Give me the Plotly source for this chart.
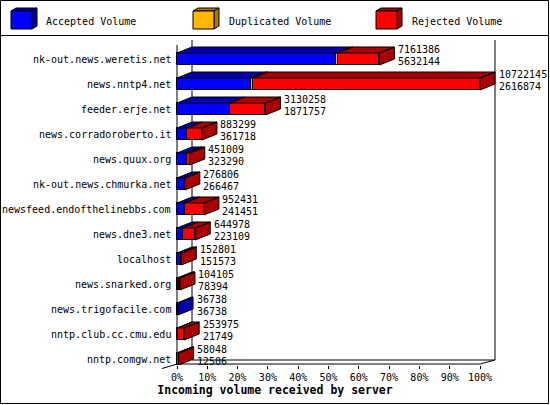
import plotly.graph_objects as go

# ---------------- data ----------------
hosts = [
    "nk-out.news.weretis.net", "news.nntp4.net", "feeder.erje.net",
    "news.corradoroberto.it", "news.quux.org", "nk-out.news.chmurka.net",
    "newsfeed.endofthelinebbs.com", "news.dne3.net", "localhost",
    "news.snarked.org", "news.trigofacile.com", "nntp.club.cc.cmu.edu",
    "nntp.comgw.net",
]
total = [7161386, 10722145, 3130258, 883299, 451009, 276806, 952431,
         644978, 152801, 104105, 36738, 253975, 58048]
accepted = [5632144, 2616874, 1871757, 361718, 323290, 266467, 241451,
            223109, 151573, 78394, 36738, 21749, 12506]
duplicated = [60000, 70000, 0, 0, 25000, 0, 35000, 0, 0, 0, 0, 0, 0]
series_names = ["Accepted Volume", "Duplicated Volume", "Rejected Volume"]
tick_values = [0, 10, 20, 30, 40, 50, 60, 70, 80, 90, 100]
tick_labels = [f"{v}%" for v in tick_values]
x_title = "Incoming volume received by server"

rejected = [t - a - d for t, a, d in zip(total, accepted, duplicated)]
vmax = max(total)
pct = lambda arr: [v / vmax * 100 for v in arr]
acc_p, dup_p, rej_p, tot_p = pct(accepted), pct(duplicated), pct(rejected), pct(total)
idx = list(range(len(hosts)))

# ---------------- style / geometry ----------------
FONT = "DejaVu Sans Mono"
BLUE, BLUE_D = "#0000FF", "#0000AA"
ORNG, ORNG_D = "#FFB700", "#AA7A00"
RED, RED_D = "#FF0000", "#AA0000"
FRONT = [BLUE, ORNG, RED]
DARK = [BLUE_D, ORNG_D, RED_D]

W, H = 550, 405
L, R, T, B = 2, 2, 36, 40
PW, PH = W - L - R, H - T - B
X0PX, X100PX = 177, 480
k = (X100PX - X0PX) / 100.0          # px per percent
xr = [-(X0PX - L) / k, -(X0PX - L) / k + PW / k]
ROW0, ROWH = 59, 25                  # first row centre, row pitch (px)
yr = [(T + PH - ROW0) / ROWH, (T - ROW0) / ROWH]   # reversed
DX = 15 / k
DY = 6 / ROWH
HB = 6 / ROWH


def py2y(py):
    return (py - ROW0) / ROWH


def px2x(px):
    return (px - X0PX) / k


def ppx(px):
    return (px - L) / PW


def ppy(py):
    return 1 - (py - T) / PH


fig = go.Figure()

# front faces (stacked bars)
for name, vals, col in zip(series_names, [acc_p, dup_p, rej_p], FRONT):
    fig.add_trace(go.Bar(
        y=idx, x=vals, orientation="h", width=2 * HB, name=name,
        marker=dict(color=col, line=dict(color="black", width=1)),
        showlegend=False, hoverinfo="skip",
    ))

# top and side faces
polys = {c: ([], []) for c in range(3)}
segs = [acc_p, dup_p, rej_p]
for i in idx:
    start = 0.0
    last = None
    for s in range(3):
        v = segs[s][i]
        if v > 0:
            e = start + v
            xs, ys = polys[s]
            xs += [start, e, e + DX, start + DX, start, None]
            ys += [i - HB, i - HB, i - HB - DY, i - HB - DY, i - HB, None]
            last = (e, s)
            start = e
    e, s = last
    xs, ys = polys[s]
    xs += [e, e + DX, e + DX, e, e, None]
    ys += [i - HB, i - HB - DY, i + HB - DY, i + HB, i - HB, None]

for s in range(3):
    xs, ys = polys[s]
    if xs:
        fig.add_trace(go.Scatter(
            x=xs, y=ys, mode="lines", fill="toself", fillcolor=DARK[s],
            line=dict(color="black", width=1), hoverinfo="skip",
            showlegend=False,
        ))

shapes = []
line = dict(color="black", width=1)
# walls / floor
shapes.append(dict(type="line", xref="x", yref="y", x0=0, x1=0,
                   y0=py2y(45), y1=py2y(364), line=line, layer="below"))
for xv in (DX, 100 + DX):
    shapes.append(dict(type="line", xref="x", yref="y", x0=xv, x1=xv,
                       y0=py2y(40), y1=py2y(360), line=line, layer="below"))
shapes.append(dict(type="line", xref="x", yref="y", x0=DX, x1=100 + DX,
                   y0=py2y(360), y1=py2y(360), line=line, layer="below"))
shapes.append(dict(type="line", xref="x", yref="y", x0=0, x1=100,
                   y0=py2y(364), y1=py2y(364), line=line, layer="below"))
shapes.append(dict(type="line", xref="x", yref="y", x0=100, x1=100 + DX,
                   y0=py2y(364), y1=py2y(360), line=line, layer="below"))
shapes.append(dict(type="line", xref="paper", yref="paper",
                   x0=ppx(X0PX + 14), y0=ppy(360), x1=ppx(162), y1=ppy(368.5),
                   line=line, layer="below"))

# outer border and legend separator
shapes.append(dict(type="rect", xref="paper", yref="paper",
                   x0=ppx(0.5), x1=ppx(548.5), y0=ppy(0.5), y1=ppy(403.5),
                   line=line))
shapes.append(dict(type="line", xref="paper", yref="paper",
                   x0=ppx(0.5), x1=ppx(548.5), y0=ppy(35.5), y1=ppy(35.5),
                   line=line))

annotations = []
# legend cubes
leg_x = [11, 193, 376]
leg_tx = [44, 227, 410]
for lx, tx, name, fc, dc in zip(leg_x, leg_tx, series_names, FRONT, DARK):
    x0, y0, w, h, d, e = lx, 11, 21, 18, 5, 3

    def P(pts):
        return "M " + " L ".join(f"{ppx(a)},{ppy(b)}" for a, b in pts) + " Z"
    shapes.append(dict(type="path", xref="paper", yref="paper",
                       path=P([(x0, y0), (x0 + w, y0), (x0 + w + d, y0 - e), (x0 + d, y0 - e)]),
                       fillcolor=dc, line=line))
    shapes.append(dict(type="path", xref="paper", yref="paper",
                       path=P([(x0 + w, y0), (x0 + w + d, y0 - e), (x0 + w + d, y0 + h - e), (x0 + w, y0 + h)]),
                       fillcolor=dc, line=line))
    shapes.append(dict(type="rect", xref="paper", yref="paper",
                       x0=ppx(x0), x1=ppx(x0 + w), y0=ppy(y0), y1=ppy(y0 + h),
                       fillcolor=fc, line=line))
    annotations.append(dict(xref="paper", yref="paper", x=ppx(tx), y=ppy(21),
                            text=name, showarrow=False, xanchor="left",
                            yanchor="middle", font=dict(family=FONT, size=10, color="black")))

# category labels
for i, hname in zip(idx, hosts):
    annotations.append(dict(xref="x", yref="y", x=px2x(173), y=i, text=hname,
                            showarrow=False, xanchor="right", yanchor="middle",
                            font=dict(family=FONT, size=10, color="black")))

# value labels
for i in idx:
    xv = tot_p[i] + DX + 1.5 / k
    annotations.append(dict(xref="x", yref="y", x=xv, y=i - 10 / ROWH,
                            text=str(total[i]), showarrow=False, xanchor="left",
                            yanchor="middle", font=dict(family=FONT, size=10, color="black")))
    annotations.append(dict(xref="x", yref="y", x=xv, y=i + 2 / ROWH,
                            text=str(accepted[i]), showarrow=False, xanchor="left",
                            yanchor="middle", font=dict(family=FONT, size=10, color="black")))

fig.update_layout(
    width=W, height=H, margin=dict(l=L, r=R, t=T, b=B, pad=0),
    paper_bgcolor="white", plot_bgcolor="white",
    barmode="stack", bargap=0,
    shapes=shapes, annotations=annotations,
    showlegend=False,
    xaxis=dict(range=xr, tickvals=tick_values, ticktext=tick_labels,
               showgrid=False, zeroline=False, showline=False,
               ticks="outside", ticklen=3, tickcolor="black", tickwidth=1,
               tickfont=dict(family=FONT, size=10, color="black"),
               title=dict(text="<b>" + x_title + "</b>", standoff=2,
                          font=dict(family=FONT, size=11.5, color="black")),
               fixedrange=True),
    yaxis=dict(range=yr, showticklabels=False, showgrid=False, zeroline=False,
               showline=False, ticks="", fixedrange=True),
)

fig.write_html(
    "out.html",
    config={"displayModeBar": False},
    post_script="document.body.style.margin='0';document.body.style.padding='0';"
                "document.body.style.overflow='hidden';",
)
